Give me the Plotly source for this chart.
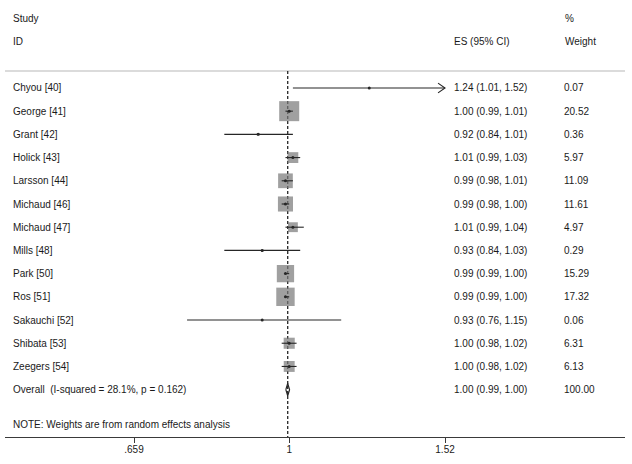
import math
import plotly.graph_objects as go

# ---------------- data ----------------
studies = ["Chyou [40]", "George [41]", "Grant [42]", "Holick [43]", "Larsson [44]",
           "Michaud [46]", "Michaud [47]", "Mills [48]", "Park [50]", "Ros [51]",
           "Sakauchi [52]", "Shibata [53]", "Zeegers [54]"]
es = [1.24, 1.00, 0.92, 1.01, 0.99, 0.99, 1.01, 0.93, 0.99, 0.99, 0.93, 1.00, 1.00]
ci_low = [1.01, 0.99, 0.84, 0.99, 0.98, 0.98, 0.99, 0.84, 0.99, 0.99, 0.76, 0.98, 0.98]
ci_high = [1.52, 1.01, 1.01, 1.03, 1.01, 1.00, 1.04, 1.03, 1.00, 1.00, 1.15, 1.02, 1.02]
weights = [0.07, 20.52, 0.36, 5.97, 11.09, 11.61, 4.97, 0.29, 15.29, 17.32, 0.06, 6.31, 6.13]

overall_label = "Overall\u00a0\u00a0(I-squared = 28.1%, p = 0.162)"
overall_es = 0.996
overall_low = 0.991
overall_high = 1.001
overall_weight = 100.00

tick_vals = [0.659, 1.0, 1.52]
tick_text = [".659", "1", "1.52"]
note_text = "NOTE: Weights are from random effects analysis"

# ---------------- layout helpers ----------------
W, H = 632, 464
ML, MR, MT, MB = 5, 7, 0, 27
PW = W - ML - MR
FONT = "Liberation Sans, Arial, sans-serif"
TXT = "#1a1a1a"
LINE = "#262626"
clip_max = tick_vals[-1]

# x range in log10 units so that ticks land where they do in the reference
px_per_dec = 856.9
x0 = math.log10(tick_vals[0]) - (134 - ML) / px_per_dec
x1 = x0 + PW / px_per_dec

n = len(studies)
rows = [-i for i in range(n)]
overall_row = -n
note_row = -(n + 1.5)
y_bottom = -15.04
y_top = 3.79


def px(X):
    return (X - ML) / PW


fig = go.Figure()

# dashed line at overall estimate
fig.add_shape(type="line", xref="x", yref="y", x0=overall_es, x1=overall_es,
              y0=0.73, y1=y_bottom, line=dict(color=LINE, width=1.3, dash="3px,2px"),
              layer="below")
# separator line under header
fig.add_shape(type="line", xref="paper", yref="y", x0=0, x1=1, y0=0.73, y1=0.73,
              line=dict(color="#cfcfcf", width=1.6), layer="below")

# weight boxes
k = 4.42
fig.add_trace(go.Scatter(
    x=es, y=rows, mode="markers",
    marker=dict(symbol="square", size=[k * math.sqrt(w) for w in weights],
                color="#777777", line=dict(width=0)),
    hoverinfo="skip", showlegend=False))

# confidence interval lines (clipped at axis max, with arrow)
cx, cy = [], []
ax, ay = [], []
for r, lo, hi in zip(rows, ci_low, ci_high):
    top = min(hi, clip_max)
    cx += [lo, top, None]
    cy += [r, r, None]
    if hi >= clip_max:
        back = 10 ** (math.log10(clip_max) - 7 / px_per_dec)
        ax += [back, clip_max, back, None]
        ay += [r + 0.21, r, r - 0.21, None]
fig.add_trace(go.Scatter(x=cx, y=cy, mode="lines", line=dict(color=LINE, width=1.1),
                         hoverinfo="skip", showlegend=False))
fig.add_trace(go.Scatter(x=ax, y=ay, mode="lines", line=dict(color=LINE, width=1.1),
                         hoverinfo="skip", showlegend=False))

# point estimate dots
fig.add_trace(go.Scatter(x=es, y=rows, mode="markers",
                         marker=dict(symbol="circle", size=3, color=LINE),
                         hoverinfo="skip", showlegend=False))

# overall diamond
dh = 0.27
fig.add_trace(go.Scatter(
    x=[overall_low, overall_es, overall_high, overall_es, overall_low],
    y=[overall_row, overall_row + dh, overall_row, overall_row - dh, overall_row],
    mode="lines", line=dict(color=LINE, width=1.2),
    hoverinfo="skip", showlegend=False))

# ---------------- text columns ----------------
ann = []


def add_text(X, y, s):
    ann.append(dict(x=px(X), y=y, xref="paper", yref="y", text=s, showarrow=False,
                    xanchor="left", yanchor="middle", font=dict(family=FONT, size=10, color=TXT)))


add_text(11, 3, "Study")
add_text(11, 2, "ID")
add_text(452, 2, "ES (95% CI)")
add_text(563, 3, "%")
add_text(563, 2, "Weight")

for r, name, e, lo, hi, w in zip(rows, studies, es, ci_low, ci_high, weights):
    add_text(11, r, name)
    add_text(452, r, f"{e:.2f} ({lo:.2f}, {hi:.2f})")
    add_text(562, r, f"{w:.2f}")

add_text(11, overall_row, overall_label)
add_text(452, overall_row, f"{overall_es:.2f} ({overall_low:.2f}, {overall_high:.2f})")
add_text(562, overall_row, f"{overall_weight:.2f}")
add_text(11, note_row, note_text)

fig.update_layout(
    width=W, height=H,
    margin=dict(l=ML, r=MR, t=MT, b=MB),
    paper_bgcolor="white", plot_bgcolor="white",
    annotations=ann,
    xaxis=dict(type="log", range=[x0, x1], tickvals=tick_vals, ticktext=tick_text,
               showgrid=False, zeroline=False, showline=True, linecolor="#3a3a3a",
               linewidth=1.2, ticks="outside", ticklen=5, tickcolor="#3a3a3a",
               ticklabelstandoff=-2,
               tickfont=dict(family=FONT, size=10, color=TXT), fixedrange=True),
    yaxis=dict(range=[y_bottom, y_top], visible=False, showgrid=False,
               zeroline=False, fixedrange=True),
    font=dict(family=FONT, size=10, color=TXT),
)

fig.write_html("out.html", config={"displayModeBar": False},
               post_script="document.body.style.margin='0';document.body.style.overflow='hidden';")
